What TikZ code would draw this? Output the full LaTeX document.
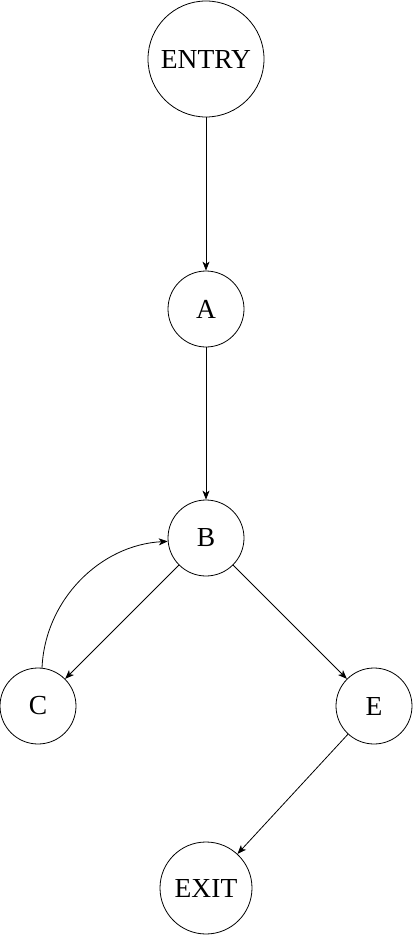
\documentclass[tikz,border=0pt]{standalone}
\usepackage{fontspec}
\setmainfont{Liberation Serif}
\usetikzlibrary{arrows.meta}
\begin{document}
\begin{tikzpicture}[x=1pt,y=-1pt,
  nd/.style={circle,draw,line width=0.8pt,inner sep=0pt,font=\fontsize{27.5}{32}\selectfont},
  edge/.style={line width=0.8pt,-{Stealth[length=9pt,width=7pt,inset=2.5pt]}}]
\useasboundingbox (0,0) rectangle (414,936);
\node[nd,minimum size=116pt] (entry) at (206,59) {ENTRY};
\node[nd,minimum size=76pt] (a) at (206,309) {A};
\node[nd,minimum size=76pt] (b) at (206,538) {B};
\node[nd,minimum size=76pt] (c) at (38,706) {C};
\node[nd,minimum size=76pt] (e) at (374,706) {E};
\node[nd,minimum size=92pt] (exit) at (206,888) {EXIT};
\draw[edge] (entry) -- (a);
\draw[edge] (a) -- (b);
\draw[edge] (b) -- (c);
\draw[edge] (b) -- (e);
\draw[edge] (e) -- (exit);
\draw[edge] (c.84) .. controls (45,600) and (100,545) .. (b.185);
\end{tikzpicture}
\end{document}
